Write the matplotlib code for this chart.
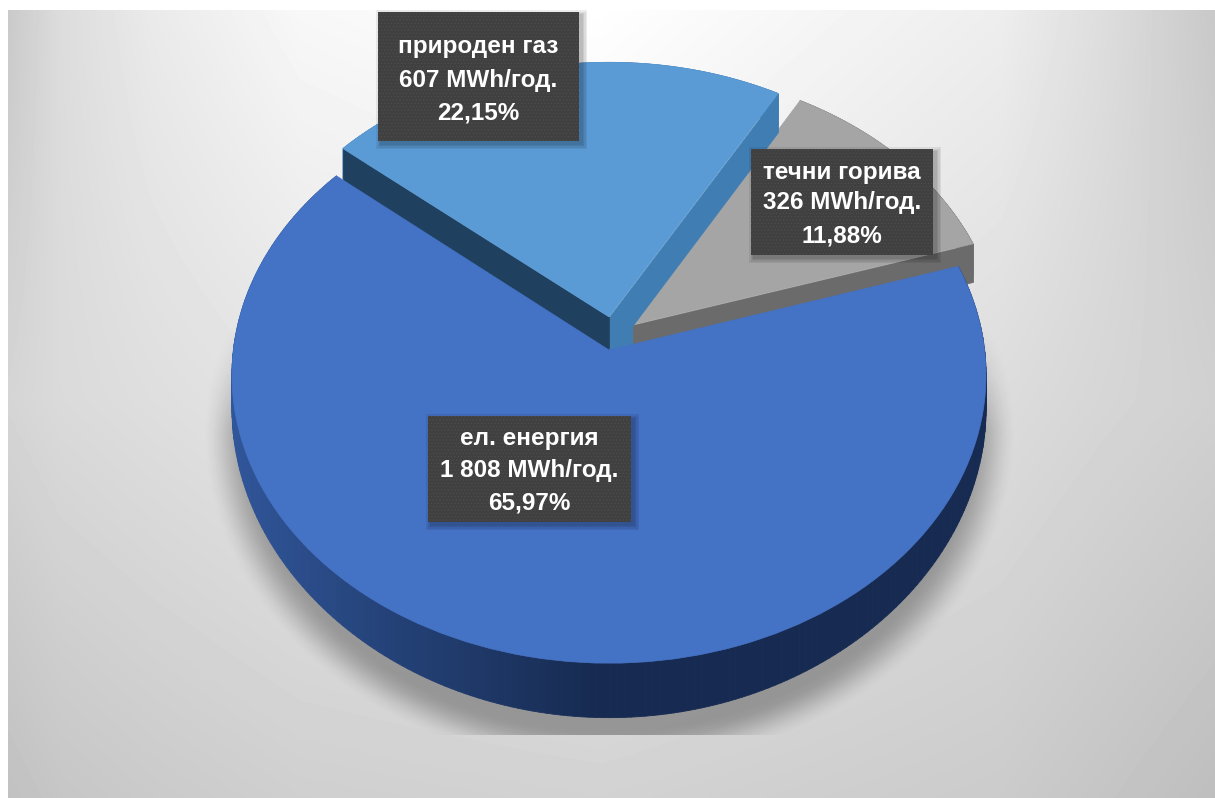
import numpy as np
import matplotlib
matplotlib.use("Agg")
import matplotlib.pyplot as plt
from matplotlib.collections import PolyCollection
from matplotlib.patches import Rectangle
from matplotlib.transforms import Transform

plt.rcParams['font.family'] = ['Liberation Sans', 'DejaVu Sans']
plt.rcParams['hatch.linewidth'] = 0.4

# donnees du graphique
categories = ['ел. енергия', 'течни горива', 'природен газ']
valeurs_mwh = [1808, 326, 607]
valeurs_txt = ['1 808 MWh/год.', '326 MWh/год.', '607 MWh/год.']
pourcents = ['65,97%', '11,88%', '22,15%']

LARGEUR, HAUTEUR = 1215, 798
CX = 609

# decalage et rayon de chaque part (dans le plan du disque)
decalages = [(0.0, 0.0), (0.062, 0.088), (0.0, 0.117)]
rayons = [1.0, 0.985, 0.985]
couleurs_dessus = ['#4472C4', '#A5A5A5', '#5B9BD5']

# niveaux de gris du fond
fond_x = [0, 60, 150, 300, 600, 1000, 1100, 1215]
fond_y = [0, 400, 798]
fond_gris = [[198, 220, 234, 248, 255, 238, 222, 200],
             [212, 218, 222, 228, 235, 220, 214, 208],
             [192, 198, 202, 207, 210, 203, 197, 190]]


# projection du disque vers les pixels, t=0 dessus du disque, t=1 dessous
def projeter(u, v, t=0.0):
    k = 0.0868 + (0.1155 - 0.0868) * t
    b = 286 + (296 - 286) * t
    y0 = 350 + 33 * t
    return CX + 375.6 * u / (1 + 0.0868 * v), y0 - b * v / (1 + k * v)


class Perspective(Transform):
    input_dims = 2
    output_dims = 2
    is_separable = False

    def transform_non_affine(self, values):
        x, y = projeter(values[:, 0], values[:, 1])
        return np.column_stack([x, y])


def point_bord(theta, decalage, rayon):
    a = np.radians(theta)
    return decalage[0] + rayon * np.cos(a), decalage[1] + rayon * np.sin(a)


# une face verticale entre deux points du disque
def face(p1, p2, t_bas=1.0):
    return [projeter(p1[0], p1[1], 0), projeter(p2[0], p2[1], 0),
            projeter(p2[0], p2[1], t_bas), projeter(p1[0], p1[1], t_bas)]


def melange(c1, c2, t):
    return tuple(np.array(c1) * (1 - t) + np.array(c2) * t)


def couleur_flanc(i, u):
    if i == 0:
        # bleu plus clair a gauche, tres sombre a partir du centre
        t = np.clip((u + 1) / 0.95, 0, 1)
        return melange((0.19, 0.34, 0.61), (0.09, 0.17, 0.32), t)
    if i == 1:
        return (0.43, 0.43, 0.43)
    return (0.25, 0.49, 0.70)


fig = plt.figure(figsize=(LARGEUR / 100, HAUTEUR / 100), dpi=100)
ax = fig.add_axes([0, 0, 1, 1])

# fond degrade
xx, yy = np.meshgrid(np.arange(LARGEUR), np.arange(HAUTEUR))
lignes = np.array([np.interp(np.arange(LARGEUR), fond_x, ligne) for ligne in fond_gris])
fond = np.array([np.interp(np.arange(HAUTEUR), fond_y, lignes[:, j])
                 for j in range(LARGEUR)]).T / 255
fond[:, :8] = 1
fond[:10, :] = 1
ax.imshow(fond, cmap='gray', vmin=0, vmax=1, extent=(0, LARGEUR, HAUTEUR, 0),
          aspect='auto', zorder=0)

# ombre floue sous le disque
e = np.sqrt(((xx - CX) / 408) ** 2 + ((yy - 430) / 340) ** 2)
s = np.clip((1.0 - e) / 0.12, 0, 1)
alpha = s * s * (3 - 2 * s) * 0.30
alpha *= np.clip((yy - 320) / 110, 0, 1)
alpha[yy >= 735] = 0
ombre = np.zeros((HAUTEUR, LARGEUR, 4))
ombre[:, :, 3] = alpha
ax.imshow(ombre, extent=(0, LARGEUR, HAUTEUR, 0), aspect='auto', zorder=1)

# le camembert
parts, _ = ax.pie(valeurs_mwh, startangle=140, counterclock=True,
                  colors=couleurs_dessus, wedgeprops={'linewidth': 0.5})
ax.set_aspect('auto')

persp = Perspective()
ordre = [1, 2, 0]  # du fond vers l'avant
for n, i in enumerate(ordre):
    part = parts[i]
    dec = decalages[i]
    ray = rayons[i]
    part.set_center(dec)
    part.set_radius(ray)
    part.set_edgecolor(couleurs_dessus[i])
    part.set_transform(persp + ax.transData)
    part.set_zorder(3 + 2 * n + 1)

    # flanc exterieur
    angles = np.linspace(part.theta1, part.theta2, 240)
    polys, coul = [], []
    for a1, a2 in zip(angles[:-1], angles[1:]):
        p1 = point_bord(a1, dec, ray)
        p2 = point_bord(a2, dec, ray)
        polys.append(face(p1, p2))
        coul.append(couleur_flanc(i, p1[0]))
    ax.add_collection(PolyCollection(polys, facecolors=coul, edgecolors=coul,
                                     linewidths=0.6, zorder=3 + 2 * n))

    # faces de coupe, plus profondes: la grande part recouvre le surplus
    if i == 1:
        coupes = [(part.theta1, (0.42, 0.42, 0.42))]
    elif i == 2:
        coupes = [(part.theta1, (0.25, 0.49, 0.70)), (part.theta2, (0.12, 0.25, 0.37))]
    else:
        coupes = []
    for angle, c in coupes:
        ax.add_collection(PolyCollection([face(dec, point_bord(angle, dec, ray), 1.25)],
                                         facecolors=[c], edgecolors=[c], linewidths=0.5,
                                         zorder=3 + 2 * n))

    # le creux entre la part bleue et la part grise
    if i == 2:
        bas = projeter(dec[0], dec[1], 1.0)
        bord = point_bord(part.theta1, dec, ray)
        creux = [bas, projeter(bord[0], bord[1], 1.0),
                 projeter(decalages[1][0], decalages[1][1], 0),
                 projeter(decalages[1][0], decalages[1][1], 1.0)]
        c = (0.25, 0.49, 0.70)
        ax.add_collection(PolyCollection([creux], facecolors=[c], edgecolors=[c],
                                         linewidths=0.5, zorder=3 + 2 * n))

# etiquettes (x_gauche, y_haut, x_droite, y_bas)
boites = [(428, 416, 631, 522), (751, 149, 933, 255), (378, 12, 579, 141)]
lignes_y = [(438, 470, 503), (172, 203, 236), (47, 81, 113)]

for i in range(3):
    x1, y1, x2, y2 = boites[i]
    # ombre de la boite, quelques rectangles transparents
    for marge in [5, 3.5, 2, 1]:
        ax.add_patch(Rectangle((x1 + 3 - marge, y1 + 3 - marge), x2 - x1 + 2 * marge,
                               y2 - y1 + 2 * marge, facecolor='black', alpha=0.07,
                               linewidth=0, zorder=10))
    ax.add_patch(Rectangle((x1, y1), x2 - x1, y2 - y1, facecolor='#404040',
                           edgecolor='#4f4f4f', hatch='.....', linewidth=0, zorder=11))
    textes = [categories[i], valeurs_txt[i], pourcents[i]]
    for t, y in zip(textes, lignes_y[i]):
        ax.text((x1 + x2) / 2, y, t, color='white', fontsize=17.5, fontweight='bold',
                ha='center', va='center', zorder=12)

ax.set_xlim(0, LARGEUR)
ax.set_ylim(HAUTEUR, 0)
ax.axis('off')

fig.savefig('out.png', dpi=100)
